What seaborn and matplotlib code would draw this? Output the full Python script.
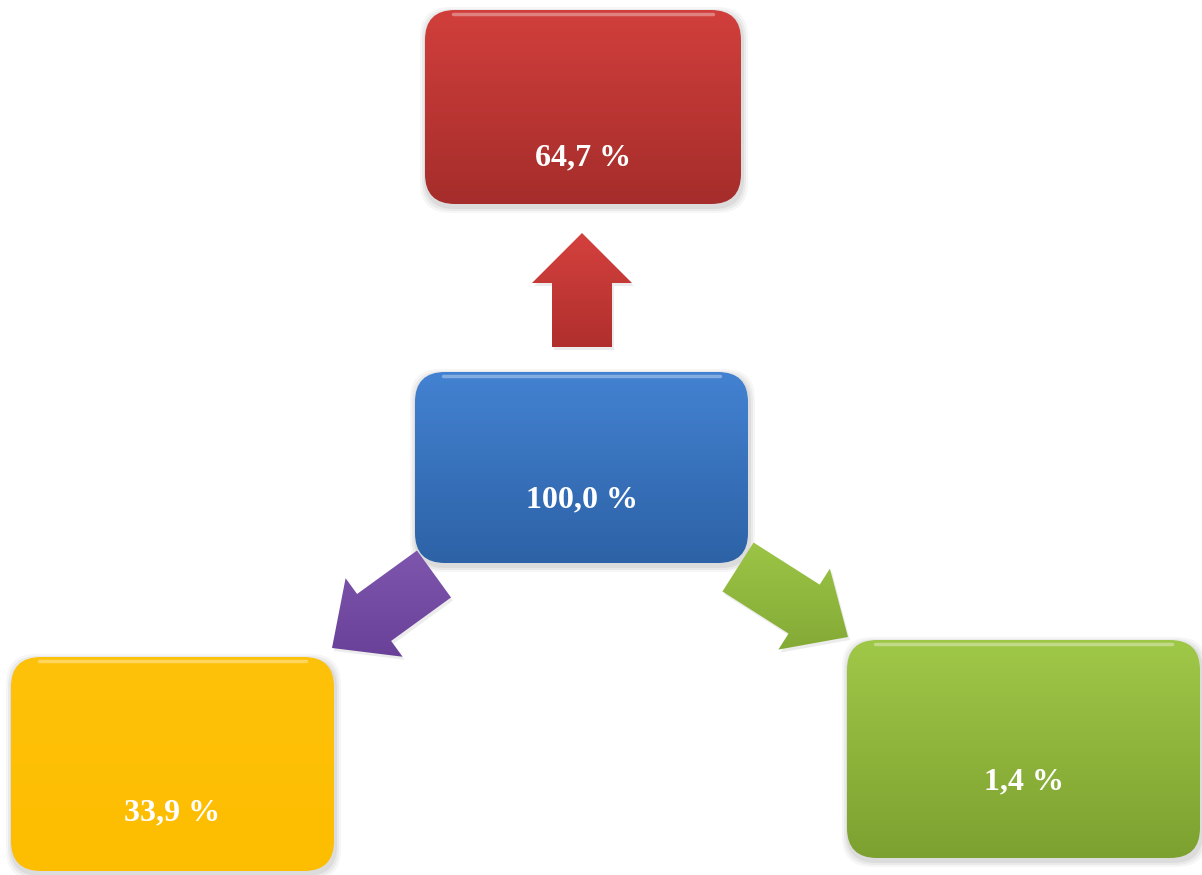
import numpy as np
import seaborn as sns
import matplotlib.pyplot as plt
from matplotlib.patches import FancyBboxPatch, FancyArrow
from matplotlib.colors import to_rgb

# Data: share of each node (in %)
node_names = ["total", "red", "yellow", "green"]
node_values = [100.0, 64.7, 33.9, 1.4]
node_labels = ["100,0 %", "64,7 %", "33,9 %", "1,4 %"]

# Arrows: from the total node towards each part
arrow_targets = ["red", "yellow", "green"]

# Styles
top_colors = {"total": "#4382d2", "red": "#d13f3c", "yellow": "#ffc20a", "green": "#a0c848"}
bot_colors = {"total": "#2d62a6", "red": "#a52d2b", "yellow": "#fdbd00", "green": "#7da130"}
arrow_colors = {"red": ("#d4413e", "#b02f2d"), "yellow": ("#7e56ae", "#6a4199"),
                "green": ("#9cc546", "#84aa36")}

# Layout in pixel coordinates (x0, y0, x1, y1) and label y
box_layout = {
    "red": (425, 10, 741, 204, 158),
    "total": (415, 372, 748, 563, 500),
    "yellow": (11, 657, 334, 871, 813),
    "green": (847, 640, 1200, 858, 782),
}
# arrow start (x, y), tip (x, y), width, head width, head length
arrow_layout = {
    "red": ((582, 347), (582, 233), 60, 100, 50),
    "yellow": ((434, 574), (332, 648), 58, 97, 52),
    "green": ((738, 567), (848, 637), 58, 96, 52),
}

sns.set_theme(style="white")
plt.rcParams['font.family'] = ['Liberation Serif', 'DejaVu Serif']

fig = plt.figure(figsize=(12.02, 8.75), dpi=100)
ax = fig.add_axes([0, 0, 1, 1])
ax.set_xlim(0, 1202)
ax.set_ylim(875, 0)
ax.axis('off')


def gradient(c_top, c_bot, n=256):
    t = np.linspace(0, 1, n)[:, None]
    a = np.array(to_rgb(c_top))
    b = np.array(to_rgb(c_bot))
    return (a * (1 - t) + b * t)[:, None, :]


def draw_box(name, label):
    x0, y0, x1, y1, ty = box_layout[name]
    w, h = x1 - x0, y1 - y0
    # soft shadow
    for k, a in zip([6, 4, 2], [0.05, 0.07, 0.09]):
        sh = FancyBboxPatch((x0 + 1, y0 + 3), w, h,
                            boxstyle=f"round,pad={k},rounding_size=30",
                            fc="#555555", ec="none", alpha=a, zorder=1)
        ax.add_patch(sh)
    patch = FancyBboxPatch((x0, y0), w, h, boxstyle="round,pad=0,rounding_size=30",
                           fc="none", ec="none", zorder=2)
    ax.add_patch(patch)
    im = ax.imshow(gradient(top_colors[name], bot_colors[name]),
                   extent=(x0, x1, y1, y0), origin='upper', aspect='auto', zorder=2)
    im.set_clip_path(patch)
    # glossy top edge
    ax.plot([x0 + 28, x1 - 28], [y0 + 4, y0 + 4], color="white", lw=2.5,
            alpha=0.35, solid_capstyle="round", zorder=3)
    ax.text((x0 + x1) / 2, ty, label, color="white", fontsize=23, fontweight="bold",
            ha="center", va="center", zorder=4)


def draw_arrow(name):
    (sx, sy), (tx, ty), w, hw, hl = arrow_layout[name]
    dx, dy = tx - sx, ty - sy
    c1, c2 = arrow_colors[name]
    shadow = FancyArrow(sx + 2, sy + 3, dx, dy, width=w, head_width=hw, head_length=hl,
                        length_includes_head=True, fc="#666666", ec="none",
                        alpha=0.12, zorder=1)
    ax.add_patch(shadow)
    arr = FancyArrow(sx, sy, dx, dy, width=w, head_width=hw, head_length=hl,
                     length_includes_head=True, fc="none", ec="none", zorder=2)
    ax.add_patch(arr)
    xs, ys = arr.get_xy()[:, 0], arr.get_xy()[:, 1]
    im = ax.imshow(gradient(c1, c2), extent=(xs.min(), xs.max(), ys.max(), ys.min()),
                   origin='upper', aspect='auto', zorder=2)
    im.set_clip_path(arr)


for name in arrow_targets:
    draw_arrow(name)

for name, label in zip(node_names, node_labels):
    draw_box(name, label)

ax.set_xlim(0, 1202)
ax.set_ylim(875, 0)
fig.savefig("out.png", dpi=100, facecolor="white")
